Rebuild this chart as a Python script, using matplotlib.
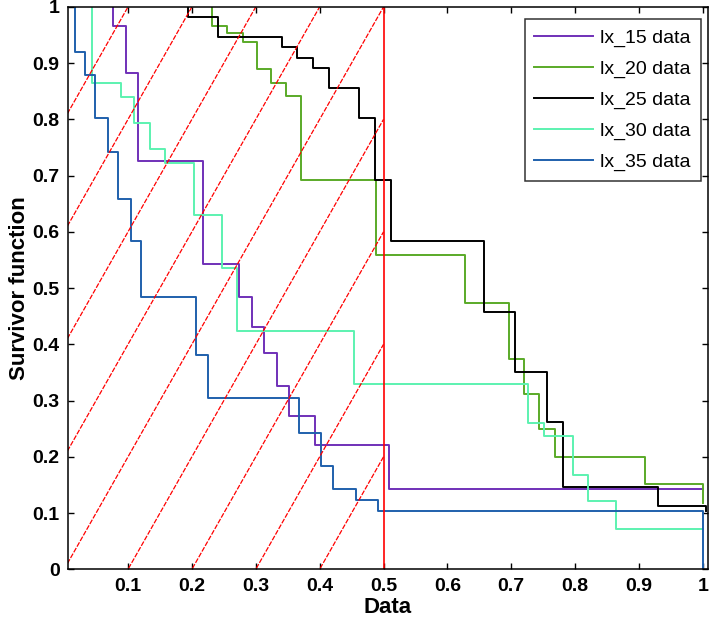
import numpy as np
import matplotlib
matplotlib.use("Agg")
import matplotlib.pyplot as plt

plt.rcParams["font.family"] = ["Liberation Sans", "DejaVu Sans"]

# survivor-function steps: x where each drop happens, level after the drop
lx15_x = [0.0765, 0.0975, 0.1157, 0.2167, 0.274, 0.2945, 0.313, 0.334, 0.352, 0.392, 0.509, 1.0]
lx15_y = [0.966, 0.883, 0.726, 0.543, 0.485, 0.430, 0.384, 0.326, 0.273, 0.221, 0.143, 0.143]

lx20_x = [0.231, 0.2543, 0.2795, 0.3014, 0.3234, 0.3474, 0.3704, 0.4886, 0.628, 0.696, 0.7196,
          0.743, 0.769, 0.909, 1.0]
lx20_y = [0.966, 0.953, 0.938, 0.889, 0.865, 0.841, 0.692, 0.559, 0.473, 0.373, 0.311,
          0.249, 0.200, 0.151, 0.117]

lx25_x = [0.194, 0.241, 0.3416, 0.365, 0.39, 0.415, 0.462, 0.486, 0.512, 0.657, 0.7066,
          0.756, 0.781, 0.9298, 1.005]
lx25_y = [0.982, 0.946, 0.929, 0.909, 0.892, 0.856, 0.803, 0.692, 0.584, 0.457, 0.350,
          0.261, 0.147, 0.113, 0.104]

lx30_x = [0.0435, 0.0896, 0.109, 0.1337, 0.1573, 0.203, 0.2475, 0.27, 0.454, 0.7265, 0.751,
          0.7965, 0.8195, 0.8635, 1.0]
lx30_y = [0.864, 0.839, 0.793, 0.7465, 0.722, 0.630, 0.536, 0.424, 0.330, 0.260, 0.2375,
          0.168, 0.121, 0.071, 0.071]

lx35_x = [0.0164, 0.032, 0.049, 0.069, 0.0843, 0.104, 0.121, 0.207, 0.2255, 0.368, 0.402,
          0.421, 0.457, 0.491, 1.0]
lx35_y = [0.920, 0.879, 0.803, 0.742, 0.659, 0.584, 0.4845, 0.381, 0.304, 0.243, 0.184,
          0.143, 0.124, 0.104, 0.0]

names = ["lx_15 data", "lx_20 data", "lx_25 data", "lx_30 data", "lx_35 data"]
colors = ["#7030B8", "#5AAA28", "#000000", "#5CF2B0", "#1F60AC"]

# red reference lines: y = 2x + b up to x = 0.5, plus the vertical at 0.5
diag_b = [0.8, 0.6, 0.4, 0.2, 0.0, -0.2, -0.4, -0.6, -0.8]
cut_x = 0.5

fig = plt.figure(figsize=(7.11, 6.24), dpi=100)
ax = fig.add_axes([0.0956, 0.0877, 0.9002, 0.9013])

series = [(lx15_x, lx15_y), (lx20_x, lx20_y), (lx25_x, lx25_y), (lx30_x, lx30_y), (lx35_x, lx35_y)]
for (xs, ys), name, c in zip(series, names, colors):
    ax.step([xs[0]] + xs, [1.0] + ys, where="post", color=c, lw=1.4, label=name)

xx = np.array([0.0, cut_x])
for b in diag_b:
    ax.plot(xx, 2 * xx + b, color="red", lw=0.9, ls=(0, (4, 1.2)))
ax.axvline(cut_x, color="red", lw=1.2)

ax.set_xlim(0.006, 1.008)
ax.set_ylim(0, 1)
ax.set_xticks(np.arange(1, 11) / 10)
ax.set_xticklabels(["0.1", "0.2", "0.3", "0.4", "0.5", "0.6", "0.7", "0.8", "0.9", "1"])
ax.set_yticks(np.arange(0, 11) / 10)
ax.set_yticklabels(["0", "0.1", "0.2", "0.3", "0.4", "0.5", "0.6", "0.7", "0.8", "0.9", "1"])
ax.tick_params(direction="in", length=4.5, width=1, top=True, right=True, labelsize=14, pad=6)
for lab in ax.get_xticklabels() + ax.get_yticklabels():
    lab.set_fontweight("bold")
for sp in ax.spines.values():
    sp.set_linewidth(1.1)

ax.set_xlabel("Data", fontsize=16, fontweight="bold", labelpad=2)
ax.set_ylabel("Survivor function", fontsize=16, fontweight="bold", labelpad=2)

leg = ax.legend(loc="upper right", bbox_to_anchor=(0.9886, 0.978), fontsize=14,
                frameon=True, fancybox=False, edgecolor="black", handlelength=3.0,
                labelspacing=0.68, borderpad=0.5, handletextpad=0.4, borderaxespad=0)
leg.get_frame().set_linewidth(1.1)

fig.savefig("out.png", dpi=100)
